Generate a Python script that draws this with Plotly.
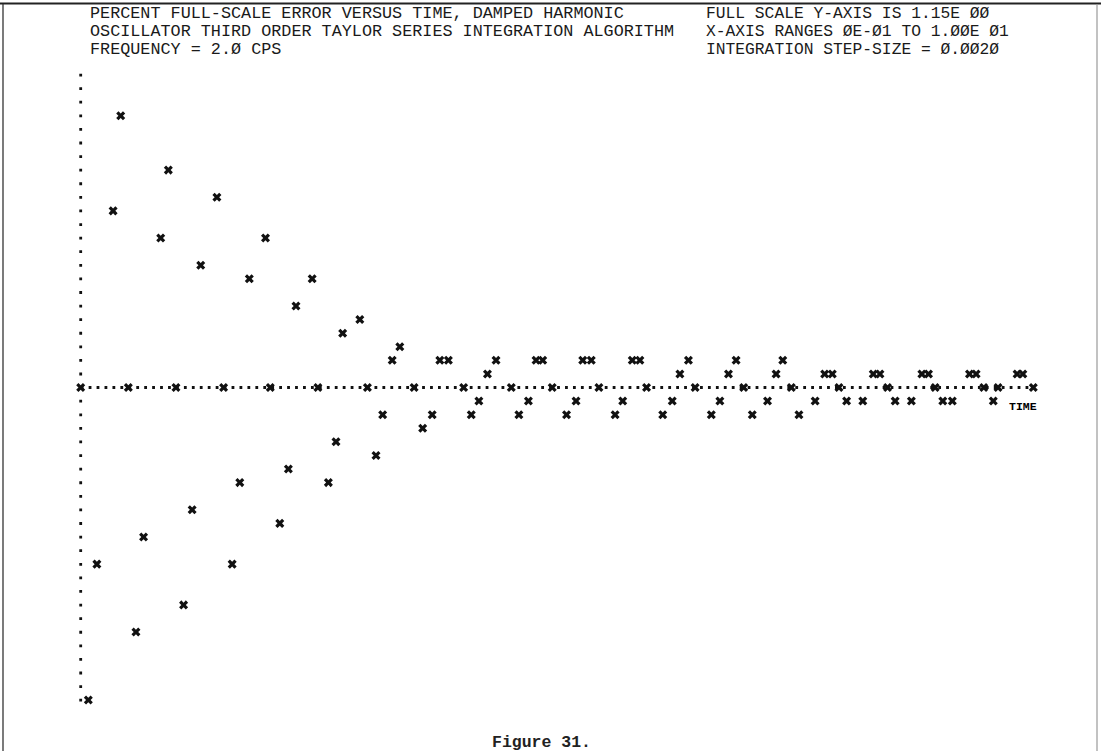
import plotly.graph_objects as go

# ---- data ----
# time (s) and percent full-scale error (fraction of full scale 1.15)
error_t = [0.08, 0.17, 0.34, 0.42, 0.58, 0.66, 0.84, 0.92, 1.08, 1.17,
           1.26, 1.43, 1.59, 1.67, 1.77, 1.94, 2.09, 2.18, 2.26, 2.43,
           2.60, 2.68, 2.75, 2.93, 3.10, 3.17, 3.27, 3.35, 3.59, 3.69,
           3.77, 3.86, 4.10, 4.18, 4.27, 4.36, 4.60, 4.70, 4.78, 4.85,
           5.10, 5.20, 5.27, 5.36, 5.61, 5.69, 5.79, 5.87, 6.11, 6.21,
           6.29, 6.38, 6.62, 6.71, 6.80, 6.88, 7.05, 7.21, 7.30, 7.37,
           7.54, 7.71, 7.81, 7.89, 8.04, 8.21, 8.32, 8.39, 8.55, 8.72,
           8.83, 8.90, 9.05, 9.15, 9.33, 9.40, 9.58, 9.83, 9.89]
error_y = [-1.15, -0.65, 0.65, 1.00, -0.90, -0.55, 0.55, 0.80, -0.80, -0.45,
           0.45, 0.70, -0.65, -0.35, 0.40, 0.55, -0.50, -0.30, 0.30, 0.40,
           -0.35, -0.20, 0.20, 0.25, -0.25, -0.10, 0.10, 0.15, -0.15, -0.10,
           0.10, 0.10, -0.10, -0.05, 0.05, 0.10, -0.10, -0.05, 0.10, 0.10,
           -0.10, -0.05, 0.10, 0.10, -0.10, -0.05, 0.10, 0.10, -0.10, -0.05,
           0.05, 0.10, -0.10, -0.05, 0.05, 0.10, -0.10, -0.05, 0.05, 0.10,
           -0.10, -0.05, 0.05, 0.05, -0.05, -0.05, 0.05, 0.05, -0.05, -0.05,
           0.05, 0.05, -0.05, -0.05, 0.05, 0.05, -0.05, 0.05, 0.05]

# tick characters printed on the time axis
axis_tick_t = [0.00, 0.50, 1.00, 1.50, 1.99, 2.49, 3.01, 3.50, 4.02, 4.52,
               4.95, 5.44, 5.94, 6.45, 6.96, 7.46, 7.96, 8.47, 8.97, 9.48,
               9.63, 10.00]

full_scale = 1.15
x_min, x_max = 0.0, 10.0

header_left = ["PERCENT FULL-SCALE ERROR VERSUS TIME, DAMPED HARMONIC",
               "OSCILLATOR THIRD ORDER TAYLOR SERIES INTEGRATION ALGORITHM",
               "FREQUENCY = 2.Ø CPS"]
header_right = ["FULL SCALE Y-AXIS IS 1.15E ØØ",
                "X-AXIS RANGES ØE-Ø1 TO 1.ØØE Ø1",
                "INTEGRATION STEP-SIZE = Ø.ØØ2Ø"]
axis_label = "TIME"
caption = "Figure 31."

W, H = 1101, 751
INK = "#111111"

fig = go.Figure()

# axis tick characters
fig.add_trace(go.Scatter(
    x=axis_tick_t, y=[0] * len(axis_tick_t), mode="markers",
    marker=dict(symbol="x", size=8, color=INK, line=dict(width=0)),
    showlegend=False, hoverinfo="skip"))

# error points
fig.add_trace(go.Scatter(
    x=error_t, y=error_y, mode="markers",
    marker=dict(symbol="x", size=8, color=INK, line=dict(width=0)),
    showlegend=False, name="error"))

# dotted axes (printer dots)
fig.add_shape(type="line", xref="x", yref="y", x0=x_min, x1=x_max, y0=0, y1=0,
              line=dict(color=INK, width=2.8, dash="2.8px,5.14px"), layer="below")
fig.add_shape(type="line", xref="x", yref="y", x0=0, x1=0,
              y0=full_scale + 0.005, y1=-full_scale - 0.01,
              line=dict(color=INK, width=2.8, dash="2.8px,10.79px"), layer="below")

# page border
fig.add_shape(type="line", xref="paper", yref="paper", x0=0, x1=1,
              y0=1 - 3.5 / H, y1=1 - 3.5 / H, line=dict(color="#222", width=2))
fig.add_shape(type="line", xref="paper", yref="paper", x0=3 / W, x1=3 / W,
              y0=0, y1=1 - 4 / H, line=dict(color="#333", width=1.3))
fig.add_shape(type="line", xref="paper", yref="paper", x0=1097 / W, x1=1097 / W,
              y0=0, y1=1 - 4 / H, line=dict(color="#999", width=1.2))

hfont = dict(family="Liberation Mono, DejaVu Sans Mono, monospace", size=16.8, color="#1a1a1a")
for i, txt in enumerate(header_left):
    fig.add_annotation(text=txt, xref="paper", yref="paper", x=88 / W,
                       y=1 - (14 + 18 * i) / H, xanchor="left", yanchor="middle",
                       showarrow=False, font=hfont)
for i, txt in enumerate(header_right):
    fig.add_annotation(text=txt, xref="paper", yref="paper", x=704 / W,
                       y=1 - (14 + 18 * i) / H, xanchor="left", yanchor="middle",
                       showarrow=False, font=dict(hfont, size=16.3))

fig.add_annotation(text="<b>" + axis_label + "</b>", xref="x", yref="y",
                   x=9.72, y=-0.07, xanchor="left", yanchor="middle", showarrow=False,
                   font=dict(family="Liberation Mono, monospace", size=11.5, color="#000000"))

fig.add_annotation(text="<b>" + caption + "</b>", xref="paper", yref="paper",
                   x=541 / W, y=1 - 742 / H, xanchor="center", yanchor="middle",
                   showarrow=False,
                   font=dict(family="Liberation Mono, monospace", size=16.5, color="#222"))

# map axes to page pixels: t=0 at x=80.7px, 95.26 px per second;
# y=0 at 387.5px, 271.74 px per unit
px_per_t = 95.26
x0 = -80.7 / px_per_t
x1 = x0 + W / px_per_t
px_per_y = 625 / (2 * full_scale)
y1 = 387.5 / px_per_y
y0 = -(H - 387.5) / px_per_y

fig.update_xaxes(range=[x0, x1], visible=False, showgrid=False, zeroline=False)
fig.update_yaxes(range=[y0, y1], visible=False, showgrid=False, zeroline=False)
fig.update_layout(width=W, height=H, margin=dict(l=0, r=0, t=0, b=0),
                  plot_bgcolor="white", paper_bgcolor="white", showlegend=False)

fig.write_html("out.html")
